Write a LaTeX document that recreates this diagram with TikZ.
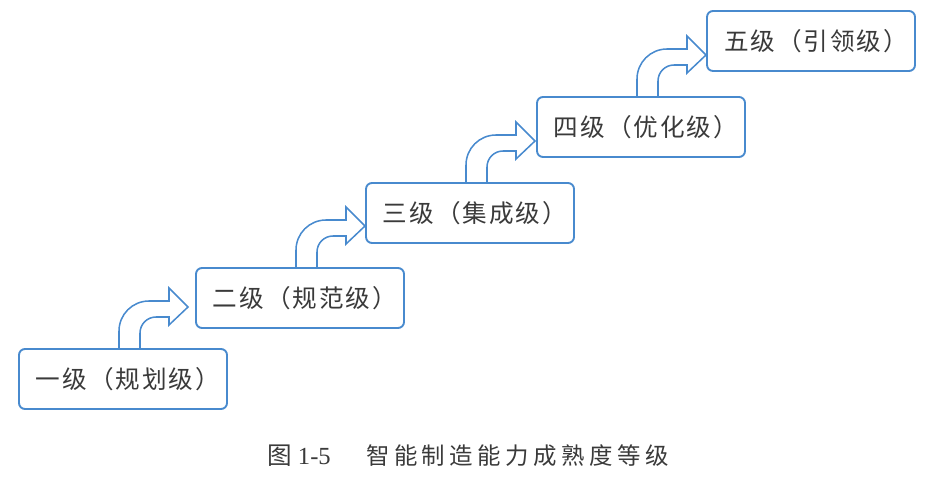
\documentclass[tikz,border=0pt]{standalone}
\usepackage{fontspec}
\setmainfont{Liberation Serif}
\newfontfamily\cjk{Noto Sans CJK SC}[LetterSpace=8]
\newfontfamily\cjkcap{Noto Sans CJK SC}[LetterSpace=19]
\usepackage{tikz}
\usetikzlibrary{positioning,calc}

\definecolor{stepblue}{RGB}{72,138,206}
\definecolor{steptext}{RGB}{58,58,58}
\tikzset{
  stepbox/.style={draw=stepblue, line width=1.6pt, rounded corners=0.18cm, fill=white,
    minimum width=6.24cm, minimum height=1.8cm, anchor=north west, outer sep=0pt,
    inner sep=0pt, text=steptext, font=\cjk\fontsize{21}{24}\selectfont,
    execute at begin node=\hspace{0.3cm}},
  bendarrow/.style={draw=stepblue, line width=1.3pt, line join=miter},
  captext/.style={anchor=west, inner sep=0pt, text=steptext}
}

\begin{document}
\begin{tikzpicture}[x=0.03cm, y=0.03cm]
\useasboundingbox (0,0) rectangle (932,478);
% level boxes
\node[stepbox] (lv1) at (19,129) {一级（规划级）};
\node[stepbox] (lv2) at (196,210) {二级（规范级）};
\node[stepbox] (lv3) at (366,295) {三级（集成级）};
\node[stepbox] (lv4) at (537,381) {四级（优化级）};
\node[stepbox] (lv5) at (707,467) {五级（引领级）};
% bent arrows up to the next level
\foreach \a in {1,2,3,4} {
  \draw[bendarrow, shift={(lv\a.north west)}] (100,0) -- (100,18)
    arc[start angle=180, end angle=90, radius=30] -- (150,48) -- (150,61)
    -- (169,42) -- (150,24) -- (150,32) -- (137,32)
    arc[start angle=90, end angle=180, radius=16] -- (121,0);
}
% caption
\node[captext, font=\fontsize{21}{24}\selectfont] (capnum) at (267,22) {{\cjk 图} 1-5};
\node[captext, font=\cjkcap\fontsize{20}{24}\selectfont] (captitle) at (366,22) {智能制造能力成熟度等级};
\end{tikzpicture}
\end{document}
